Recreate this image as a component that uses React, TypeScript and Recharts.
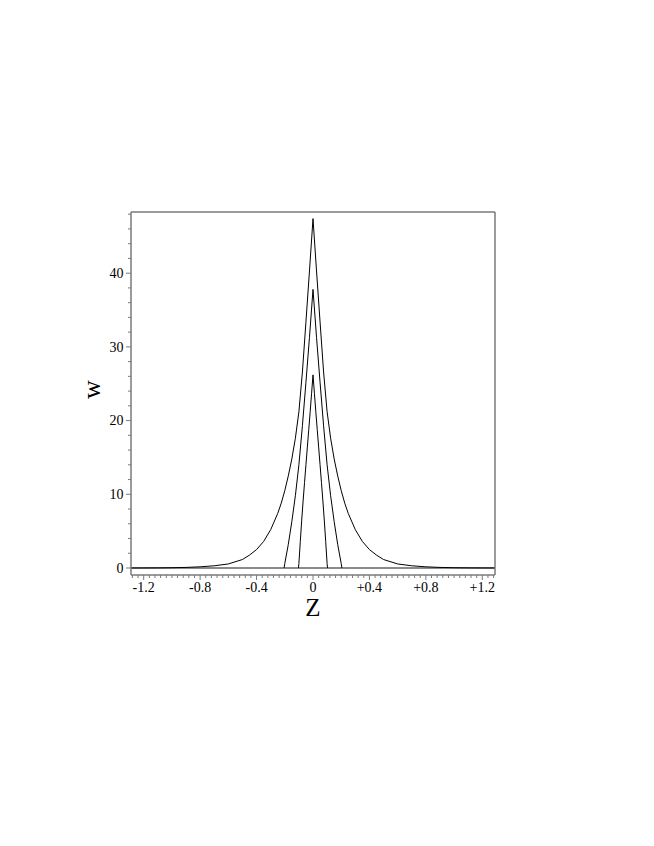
import React from "react";
import { LineChart, Line, XAxis, YAxis, ReferenceLine, Label } from "recharts";

// ---- data ----
const outerZ = [-1.29, -1.2, -1.1, -1.0, -0.9, -0.8, -0.7, -0.6, -0.5, -0.45, -0.4, -0.35, -0.3, -0.25, -0.225, -0.2, -0.175, -0.15, -0.125, -0.1, -0.075, -0.05, -0.025, 0, 0.025, 0.05, 0.075, 0.1, 0.125, 0.15, 0.175, 0.2, 0.225, 0.25, 0.3, 0.35, 0.4, 0.45, 0.5, 0.6, 0.7, 0.8, 0.9, 1.0, 1.1, 1.2, 1.29];
const outerW = [0.005, 0.01, 0.02, 0.04, 0.08, 0.16, 0.3, 0.55, 1.15, 1.75, 2.5, 3.6, 5.2, 7.4, 8.8, 10.5, 12.5, 14.8, 17.6, 21.2, 26.6, 33.4, 40.3, 47.4, 40.3, 33.4, 26.6, 21.2, 17.6, 14.8, 12.5, 10.5, 8.8, 7.4, 5.2, 3.6, 2.5, 1.75, 1.15, 0.55, 0.3, 0.16, 0.08, 0.04, 0.02, 0.01, 0.005];

const middleZ = [-0.205, -0.2, -0.175, -0.15, -0.125, -0.1, -0.075, -0.05, -0.025, 0, 0.025, 0.05, 0.075, 0.1, 0.125, 0.15, 0.175, 0.2, 0.205];
const middleW = [0, 0.6, 3.2, 6.3, 9.8, 14.0, 19.3, 25.2, 31.3, 37.8, 31.3, 25.2, 19.3, 14.0, 9.8, 6.3, 3.2, 0.6, 0];

const innerZ = [-0.103, -0.1, -0.09, -0.08, -0.07, -0.06, -0.05, -0.04, -0.03, -0.02, -0.01, 0, 0.01, 0.02, 0.03, 0.04, 0.05, 0.06, 0.07, 0.08, 0.09, 0.1, 0.103];
const innerW = [0, 0.6, 3.6, 6.5, 9.1, 11.6, 14.0, 16.4, 18.8, 21.2, 23.7, 26.2, 23.7, 21.2, 18.8, 16.4, 14.0, 11.6, 9.1, 6.5, 3.6, 0.6, 0];

const xMajorTicks = [-1.2, -0.8, -0.4, 0, 0.4, 0.8, 1.2];
const xMajorLabels = ["-1.2", "-0.8", "-0.4", "0", "+0.4", "+0.8", "+1.2"];
const yMajorTicks = [0, 10, 20, 30, 40];
const yMajorLabels = ["0", "10", "20", "30", "40"];

const xMinorStep = 0.04;
const yMinorStep = 2;

const xTicks: number[] = [];
for (let i = -32; i <= 32; i++) xTicks.push(Math.round(i * xMinorStep * 100) / 100);
const yTicks: number[] = [];
for (let i = 0; i <= 24; i++) yTicks.push(i * yMinorStep);

const toData = (zs: number[], ws: number[]) => zs.map((z, i) => ({ z, w: ws[i] }));
const outerData = toData(outerZ, outerW);
const middleData = toData(middleZ, middleW);
const innerData = toData(innerZ, innerW);

const FONT = "Liberation Serif, Times New Roman, serif";
const AXIS = "#7a7a7a";

const XTick = (props: any) => {
  const { x, y, payload } = props;
  const idx = xMajorTicks.findIndex((m) => Math.abs(m - payload.value) < 1e-6);
  const major = idx >= 0;
  return (
    <g>
      <line x1={x} x2={x} y1={y} y2={y + (major ? 5 : 3)} stroke={AXIS} strokeWidth={1} />
      {major && (
        <text x={x} y={y + 17} textAnchor="middle" style={{ fontSize: 14, fontFamily: FONT }} fill="#000">
          {xMajorLabels[idx]}
        </text>
      )}
    </g>
  );
};

const YTick = (props: any) => {
  const { x, y, payload } = props;
  const idx = yMajorTicks.findIndex((m) => Math.abs(m - payload.value) < 1e-6);
  const major = idx >= 0;
  return (
    <g>
      <line x1={x} x2={x - (major ? 5 : 3)} y1={y} y2={y} stroke={AXIS} strokeWidth={1} />
      {major && (
        <text x={x - 7.5} y={y + 4.8} textAnchor="end" style={{ fontSize: 14, fontFamily: FONT }} fill="#000">
          {yMajorLabels[idx]}
        </text>
      )}
    </g>
  );
};

export default function App() {
  return (
    <div style={{ width: 638, height: 830 }}>
      <LineChart
        width={638}
        height={830}
        margin={{ top: 203, right: 150, bottom: 233, left: 83 }}
      >
        <XAxis
          dataKey="z"
          type="number"
          domain={[-1.29, 1.29]}
          ticks={xTicks}
          interval={0}
          tick={<XTick />}
          tickLine={false}
          tickSize={0}
          tickMargin={0}
          height={30}
          axisLine={{ stroke: AXIS, strokeWidth: 1.5 }}
          allowDataOverflow
        >
          <Label
            content={(p: any) => {
              const vb = p.viewBox || {};
              return (
                <text x={vb.x + vb.width / 2} y={vb.y + 41} textAnchor="middle" style={{ fontSize: 25, fontFamily: FONT }} fill="#000">
                  Z
                </text>
              );
            }}
          />
        </XAxis>
        <XAxis
          xAxisId="top"
          orientation="top"
          type="number"
          domain={[-1.29, 1.29]}
          tick={false}
          tickLine={false}
          height={1}
          axisLine={{ stroke: AXIS, strokeWidth: 1.5 }}
        />
        <YAxis
          type="number"
          domain={[-0.95, 48.3]}
          ticks={yTicks}
          interval={0}
          tick={<YTick />}
          tickLine={false}
          tickSize={0}
          tickMargin={0}
          width={40}
          axisLine={{ stroke: AXIS, strokeWidth: 1.5 }}
          allowDataOverflow
        >
          <Label
            content={(p: any) => {
              const vb = p.viewBox || {};
              const cx = vb.x + vb.width - 40;
              const cy = vb.y + vb.height / 2 - 4;
              return (
                <text x={cx} y={cy} textAnchor="middle" dominantBaseline="central" style={{ fontSize: 26, fontFamily: FONT }} fill="#000" transform={`rotate(-90, ${cx}, ${cy})`}>
                  w
                </text>
              );
            }}
          />
        </YAxis>
        <YAxis
          yAxisId="right"
          orientation="right"
          type="number"
          domain={[-0.95, 48.3]}
          tick={false}
          tickLine={false}
          width={1}
          axisLine={{ stroke: AXIS, strokeWidth: 1.5 }}
        />
        <ReferenceLine y={0} stroke="#8a8a8a" strokeWidth={2} />
        <Line data={outerData} dataKey="w" type="linear" stroke="#000" strokeWidth={1} dot={false} isAnimationActive={false} />
        <Line data={middleData} dataKey="w" type="linear" stroke="#000" strokeWidth={1} dot={false} isAnimationActive={false} />
        <Line data={innerData} dataKey="w" type="linear" stroke="#000" strokeWidth={1} dot={false} isAnimationActive={false} />
      </LineChart>
    </div>
  );
}
